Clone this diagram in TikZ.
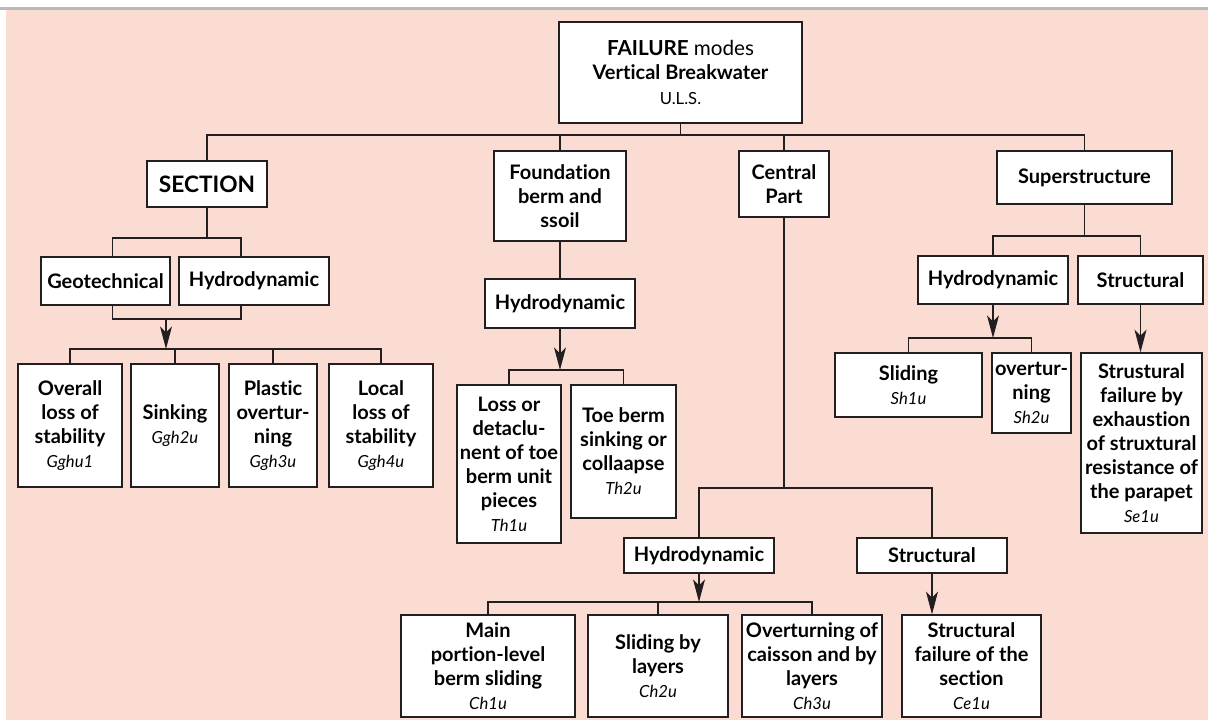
\documentclass[tikz,border=0pt]{standalone}
\usepackage{fontspec}
\setmainfont{Lato}[Ligatures=NoCommon]
\usetikzlibrary{arrows.meta}
\definecolor{bgpink}{RGB}{251,220,211}
\definecolor{linegray}{RGB}{35,31,32}
\newcommand{\cd}[1]{{\normalfont\fontsize{12.5}{18}\selectfont\itshape #1}}

\tikzset{
  box/.style={draw=linegray, line width=0.9pt, fill=white, align=center, inner sep=0pt,
    font=\fontsize{15}{18}\selectfont\bfseries},
  wh/.style 2 args={minimum width=#1*0.75pt, minimum height=#2*0.75pt},
  link/.style={draw=linegray, line width=0.9pt},
  arr/.style={link, -{Stealth[length=17pt, width=9pt, inset=4.5pt]}}
}

\begin{document}
\begin{tikzpicture}[x=0.75pt, y=-0.75pt]
\useasboundingbox (0,0) rectangle (1208,720);
\fill[bgpink] (6,10) rectangle (1208,720);
\draw[gray!55, line width=2pt] (0,8.5) -- (1208,8.5);

% top level
\node[box, wh={243}{101}] (root) at (680.5,72.5)
  {\fontsize{15.5}{20.5}\selectfont FAILURE {\mdseries modes}\\ Vertical Breakwater\\[1pt] {\mdseries\fontsize{12.5}{16}\selectfont U.L.S.}};
\node[box, wh={120}{46}, font=\fontsize{17}{20}\selectfont\bfseries] (sec) at (207,184) {SECTION};
\node[box, wh={132}{90}] (fnd) at (560,196) {Foundation\\ berm and\\ ssoil};
\node[box, wh={90}{66}] (cen) at (784,184) {Central\\ Part};
\node[box, wh={175}{53}] (sup) at (1084.5,177.5) {Superstructure};

% section
\node[box, wh={129}{48}] (geo) at (105.5,281) {Geotechnical};
\node[box, wh={150}{48}] (shy) at (254,281) {Hydrodynamic};
\node[box, wh={104}{123}] (ovl) at (70,425.5) {Overall\\ loss of\\ stability\\ \cd{Gghu1}};
\node[box, wh={88}{123}] (sink) at (175,425.5) {Sinking\\ \cd{Ggh2u}};
\node[box, wh={88}{123}] (plas) at (273,425.5) {Plastic\\ overtur-\\ ning\\ \cd{Ggh3u}};
\node[box, wh={104}{123}] (loc) at (381,425.5) {Local\\ loss of\\ stability\\ \cd{Ggh4u}};

% foundation berm
\node[box, wh={150}{49}] (fhy) at (560,303.5) {Hydrodynamic};
\node[box, wh={104}{158}] (loss) at (509,464) {Loss or\\ detaclu-\\ nent of toe\\ berm unit\\ pieces\\ \cd{Th1u}};
\node[box, wh={105}{133}] (toe) at (623.5,451.5) {Toe berm\\ sinking or\\ collaapse\\ \cd{Th2u}};

% central part
\node[box, wh={150}{35}] (chy) at (699,555.5) {Hydrodynamic};
\node[box, wh={150}{35}] (cst) at (932,555.5) {Structural};
\node[box, wh={174}{102}] (main) at (488,666) {Main\\ portion-level\\ berm sliding\\ \cd{Ch1u}};
\node[box, wh={140}{102}] (slb) at (658,666) {Sliding by\\ layers\\ \cd{Ch2u}};
\node[box, wh={140}{102}] (ovc) at (812,666) {Overturning of\\ caisson and by\\ layers\\ \cd{Ch3u}};
\node[box, wh={139}{102}] (sfs) at (971.5,666) {Structural\\ failure of the\\ section\\ \cd{Ce1u}};

% superstructure
\node[box, wh={150}{48}] (shd) at (993,280) {Hydrodynamic};
\node[box, wh={125}{48}] (sst) at (1140.5,280) {Structural};
\node[box, wh={147}{64}] (sld) at (908.5,385) {Sliding\\ \cd{Sh1u}};
\node[box, wh={79}{80}] (ovs) at (1031.5,393) {overtur-\\ ning\\ \cd{Sh2u}};
\node[box, wh={121}{180}] (sfp) at (1141.5,443) {Strustural\\ failure by\\ exhaustion\\ of struxtural\\ resistance of\\ the parapet\\ \cd{Se1u}};

% junctions
\coordinate (topbus) at (680.5,135);
\coordinate (secbus) at (207,238);
\coordinate (secjoin) at (166,319);
\coordinate (secbus2) at (166,349);
\coordinate (fndbus) at (560,370);
\coordinate (cenbus) at (784,488);
\coordinate (chybus) at (699,602);
\coordinate (supbus) at (1084.5,236);
\coordinate (shdbus) at (993,338);

% links
\draw[link] (root.south) -- (topbus);
\draw[link] (sec.north) |- (topbus) -| (sup.north);
\draw[link] (fnd.north) -- (fnd.north |- topbus);
\draw[link] (cen.north) -- (cen.north |- topbus);

\draw[link] (sec.south) -- (secbus);
\draw[link] ([xshift=5pt]geo.north) |- (secbus) -| ([xshift=-9.75pt]shy.north);
\draw[link] ([xshift=5pt]geo.south) |- (secjoin) -| ([xshift=-9.75pt]shy.south);
\draw[arr] (secjoin) -- (secbus2);
\draw[link] (ovl.north) |- (secbus2) -| (loc.north);
\draw[link] (sink.north) -- (sink.north |- secbus2);
\draw[link] (plas.north) -- (plas.north |- secbus2);

\draw[link] (fnd.south) -- (fhy.north);
\draw[arr] (fhy.south) -- (fndbus);
\draw[link] (loss.north) |- (fndbus) -| (toe.north);

\draw[link] (cen.south) -- (cenbus);
\draw[link] (chy.north) |- (cenbus) -| (cst.north);
\draw[arr] (chy.south) -- (chybus);
\draw[link] (main.north) |- (chybus) -| (ovc.north);
\draw[link] (slb.north) -- (slb.north |- chybus);
\draw[arr] (cst.south) -- (cst.south |- sfs.north);

\draw[link] (sup.south) -- (supbus);
\draw[link] (shd.north) |- (supbus) -| (sst.north);
\draw[arr] (shd.south) -- (shdbus);
\draw[link] (sld.north) |- (shdbus) -| (ovs.north);
\draw[arr] (sst.south) -- (sst.south |- sfp.north);
\end{tikzpicture}
\end{document}
